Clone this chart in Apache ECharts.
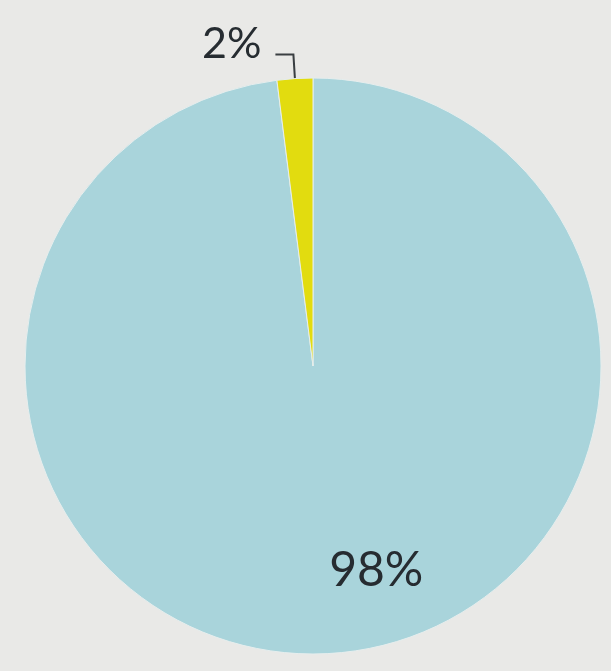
<!DOCTYPE html>
<html>
<head>
<meta charset="utf-8">
<script src="https://cdn.jsdelivr.net/npm/echarts@6/dist/echarts.min.js"></script>
<style>
html,body{margin:0;padding:0;background:#e9e9e7;}
#chart{width:611px;height:671px;}
</style>
</head>
<body>
<div id="chart"></div>
<script>
const categories = ['Other', 'Highlighted'];
const values = [98, 2];
const colors = ['#a9d4db', '#e2dc0f'];

const chart = echarts.init(document.getElementById('chart'));
chart.setOption({
  backgroundColor: '#e9e9e7',
  animation: false,
  series: [{
    type: 'pie',
    center: [313, 366],
    radius: 288,
    startAngle: 90,
    clockwise: true,
    avoidLabelOverlap: false,
    itemStyle: { borderColor: '#e6eeee', borderWidth: 1 },
    data: categories.map((c, i) => ({
      name: c,
      value: values[i],
      itemStyle: { color: colors[i] },
      label: i === 0
        ? { position: 'inside', fontSize: 48 }
        : { position: 'outside', fontSize: 43 },
      labelLine: i === 0 ? { show: false } : { show: true, length: 24, length2: 18, lineStyle: { color: '#3a3f42', width: 2 } }
    })),
    label: {
      formatter: '{d}%',
      color: '#262c31',
      fontFamily: 'Lato, "Open Sans", sans-serif',
      distanceToLabelLine: 14
    },
    labelLayout: function (p) {
      return p.dataIndex === 0 ? { dx: 54, dy: 58 } : { dy: -10 };
    }
  }]
});
</script>
</body>
</html>
